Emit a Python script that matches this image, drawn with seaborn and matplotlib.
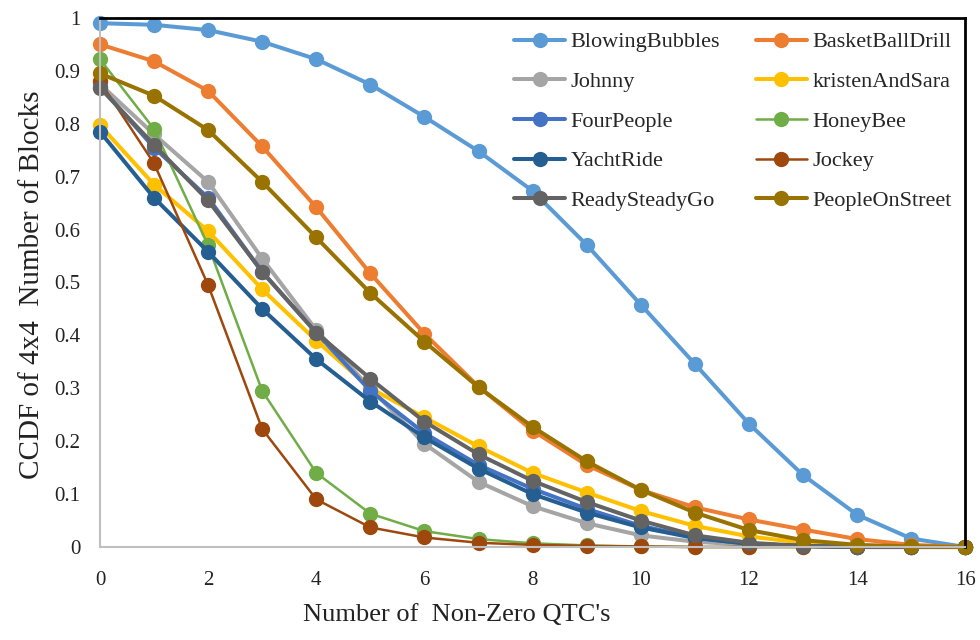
import numpy as np
import pandas as pd
import matplotlib
matplotlib.use("Agg")
import matplotlib.pyplot as plt
import seaborn as sns

# numero de coeficientes no nulos (eje x)
qtc = list(range(17))

blowing_bubbles = [0.990, 0.987, 0.977, 0.955, 0.922, 0.874, 0.813, 0.748, 0.673, 0.571, 0.458, 0.346, 0.233, 0.136, 0.061, 0.016, 0.0]
basketball_drill = [0.950, 0.918, 0.862, 0.757, 0.642, 0.517, 0.403, 0.303, 0.220, 0.155, 0.108, 0.075, 0.052, 0.033, 0.015, 0.004, 0.0]
johnny = [0.875, 0.780, 0.690, 0.545, 0.410, 0.300, 0.195, 0.123, 0.077, 0.045, 0.022, 0.010, 0.004, 0.002, 0.0, 0.0, 0.0]
kristen_and_sara = [0.797, 0.685, 0.597, 0.487, 0.390, 0.300, 0.245, 0.190, 0.140, 0.103, 0.068, 0.040, 0.020, 0.008, 0.002, 0.0, 0.0]
four_people = [0.870, 0.755, 0.660, 0.520, 0.405, 0.295, 0.215, 0.155, 0.110, 0.072, 0.040, 0.018, 0.006, 0.002, 0.0, 0.0, 0.0]
honey_bee = [0.922, 0.790, 0.570, 0.295, 0.140, 0.063, 0.030, 0.015, 0.007, 0.003, 0.001, 0.0, 0.0, 0.0, 0.0, 0.0, 0.0]
yacht_ride = [0.785, 0.660, 0.558, 0.450, 0.355, 0.275, 0.207, 0.148, 0.100, 0.065, 0.037, 0.017, 0.006, 0.002, 0.0, 0.0, 0.0]
jockey = [0.880, 0.725, 0.495, 0.223, 0.090, 0.037, 0.018, 0.008, 0.004, 0.002, 0.001, 0.0, 0.0, 0.0, 0.0, 0.0, 0.0]
ready_steady_go = [0.868, 0.760, 0.655, 0.520, 0.405, 0.318, 0.237, 0.175, 0.125, 0.085, 0.050, 0.022, 0.008, 0.002, 0.0, 0.0, 0.0]
people_on_street = [0.895, 0.853, 0.788, 0.690, 0.585, 0.480, 0.388, 0.302, 0.227, 0.162, 0.108, 0.065, 0.032, 0.013, 0.004, 0.001, 0.0]

series_names = ['BlowingBubbles', 'BasketBallDrill', 'Johnny', 'kristenAndSara', 'FourPeople',
                'HoneyBee', 'YachtRide', 'Jockey', 'ReadySteadyGo', 'PeopleOnStreet']
series_values = [blowing_bubbles, basketball_drill, johnny, kristen_and_sara, four_people,
                 honey_bee, yacht_ride, jockey, ready_steady_go, people_on_street]
colores = ['#5B9BD5', '#ED7D31', '#A5A5A5', '#FFC000', '#4472C4',
           '#70AD47', '#255E91', '#9E480E', '#636363', '#997300']
anchos = [2.9, 2.9, 2.9, 2.9, 2.9, 1.8, 2.9, 1.8, 2.9, 2.9]

sns.set_style('white')
plt.rcParams['font.family'] = ['Liberation Serif', 'DejaVu Serif']

fig = plt.figure(figsize=(9.8, 6.4), dpi=100)
ax = fig.add_axes([0.102, 0.1453, 0.883, 0.8267])

for name, vals, c, lw in zip(series_names, series_values, colores, anchos):
    df = pd.DataFrame({'x': qtc, 'y': vals})
    sns.lineplot(data=df, x='x', y='y', ax=ax, color=c, lw=lw, marker='o', markersize=11,
                 markeredgecolor=c, markeredgewidth=0, label=name, clip_on=False)

h, l = ax.get_legend_handles_labels()
# orden por filas como en el original (2 columnas)
orden = [0, 2, 4, 6, 8, 1, 3, 5, 7, 9]
ax.legend([h[i] for i in orden], [l[i] for i in orden], ncol=2, loc='upper right',
          bbox_to_anchor=(1.0, 0.999), frameon=False, fontsize=16, handlelength=2.3,
          handletextpad=0.25, columnspacing=1.6, labelspacing=0.86, borderaxespad=0.2)

ax.set_xlim(0, 16)
ax.set_ylim(0, 1)
ax.set_xticks(range(0, 17, 2))
ax.set_yticks(np.arange(0, 1.01, 0.1))
ax.set_yticklabels(['0', '0.1', '0.2', '0.3', '0.4', '0.5', '0.6', '0.7', '0.8', '0.9', '1'])
ax.tick_params(axis='both', length=0, labelsize=15, colors='#222222')
ax.tick_params(axis='x', pad=17)
ax.tick_params(axis='y', pad=14)

for s in ['left', 'bottom']:
    ax.spines[s].set_color('#BFBFBF')
    ax.spines[s].set_linewidth(1.5)
for s in ['top', 'right']:
    ax.spines[s].set_color('black')
    ax.spines[s].set_linewidth(2)

ax.set_xlabel("Number of  Non-Zero QTC's", fontsize=19, color='#222222')
ax.set_ylabel('CCDF of 4x4  Number of Blocks', fontsize=21, color='#222222')
ax.xaxis.set_label_coords(0.412, -0.108)
ax.yaxis.set_label_coords(-0.064, 0.495)

plt.savefig('out.png', dpi=100)
